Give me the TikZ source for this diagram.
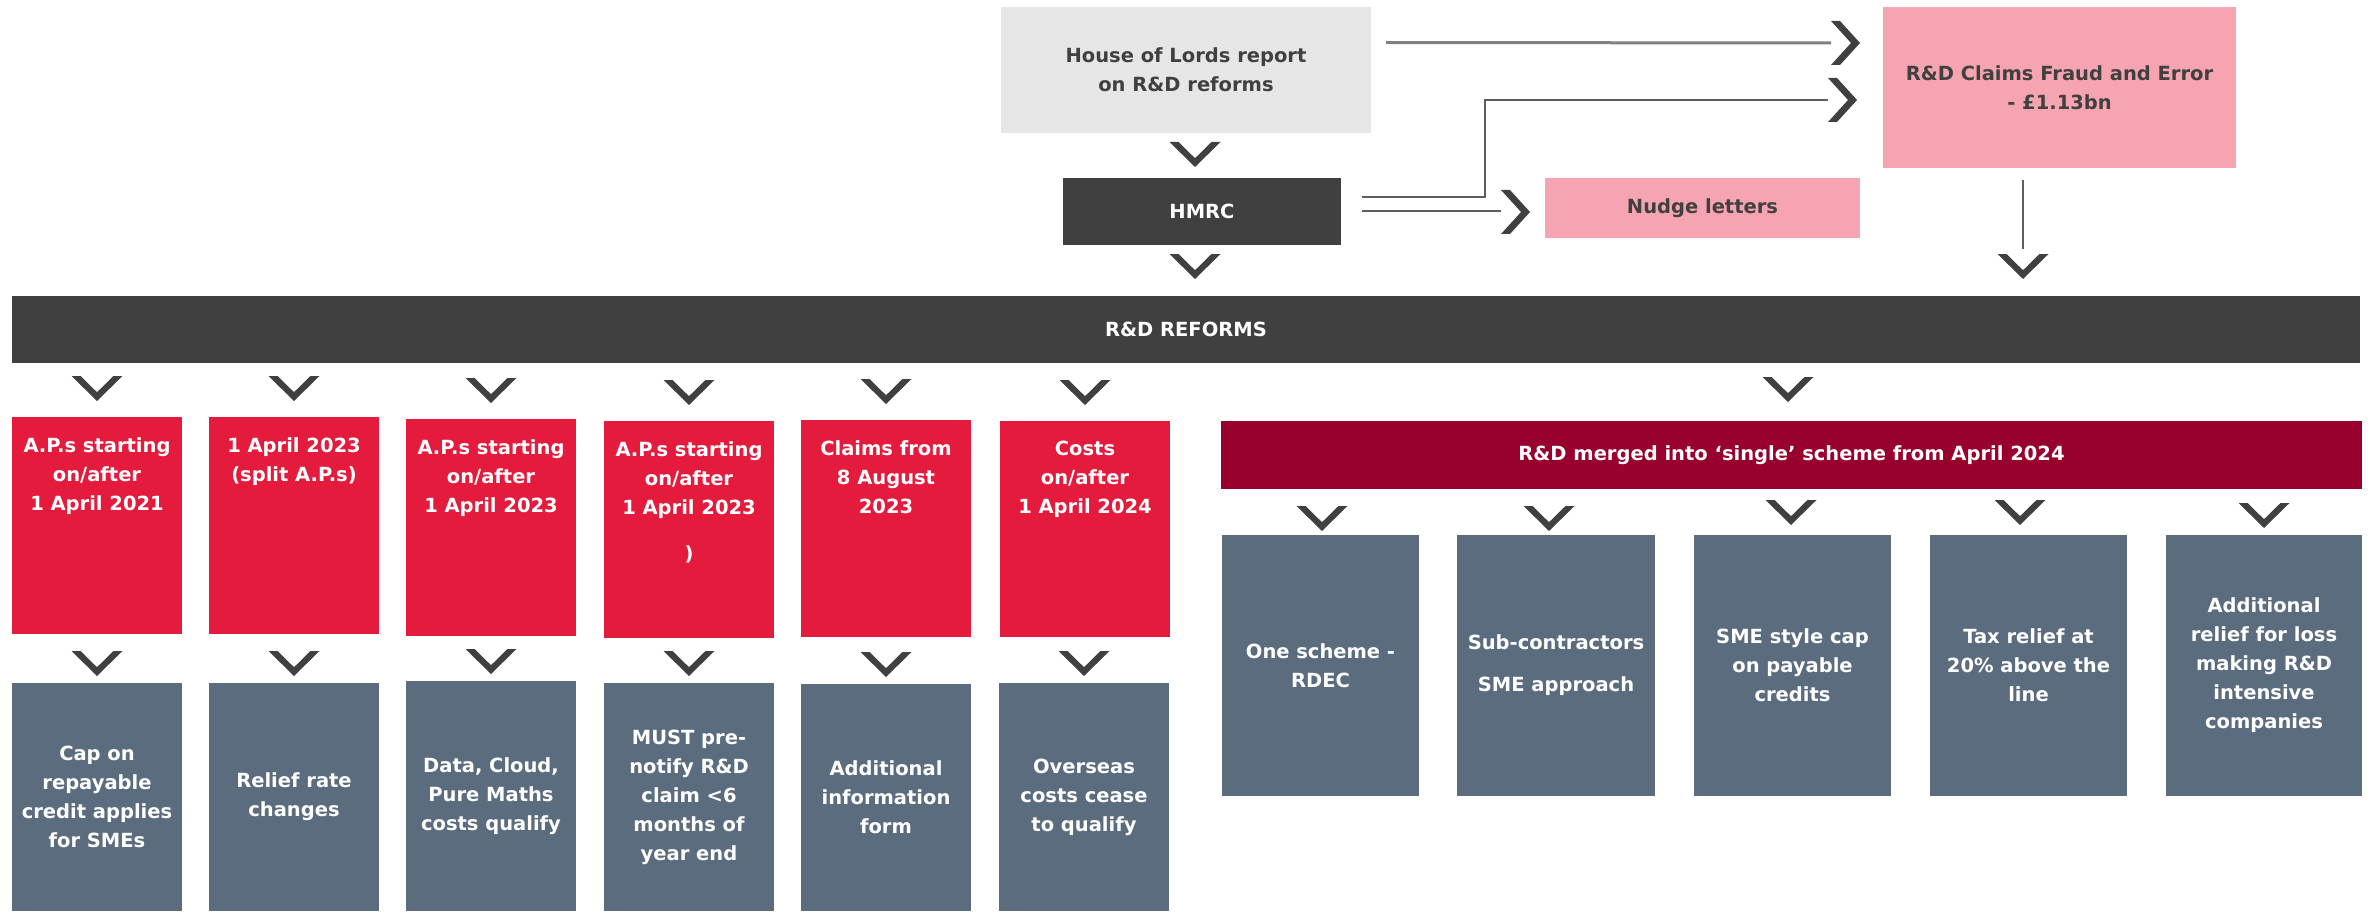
\documentclass[tikz,border=0pt]{standalone}
\usepackage{fontspec}
\setmainfont{DejaVu Sans}
\usetikzlibrary{calc}
\definecolor{darkfill}{HTML}{404040}
\definecolor{redbox}{HTML}{E41B3C}
\definecolor{slate}{HTML}{5B6C7E}
\definecolor{crimson}{HTML}{98002E}
\definecolor{pinkbox}{HTML}{F6A4B1}
\definecolor{lightbox}{HTML}{E6E6E6}
\definecolor{linegray}{HTML}{808080}
\definecolor{linedark}{HTML}{5E5E5E}
\newcommand\mybox[7]{\node[#2, minimum width={#5-#3}, minimum height={#6-#4}] (#1) at ({(#3+#5)/2},{(#4+#6)/2}) {#7};}
\tikzset{
  every node/.style={inner sep=0pt, outer sep=0pt, align=center,
    font=\fontsize{19.5}{29}\bfseries\selectfont},
  lightstyle/.style={rectangle, fill=lightbox, text=darkfill},
  pinkstyle/.style={rectangle, fill=pinkbox, text=darkfill},
  darkstyle/.style={rectangle, fill=darkfill, text=white},
  redstyle/.style={rectangle, fill=redbox},
  slatestyle/.style={rectangle, fill=slate, text=white},
  crimsonstyle/.style={rectangle, fill=crimson, text=white},
  redtext/.style={anchor=north, text=white},
  chevdown/.pic={\fill[darkfill] (-25.5,0) -- (0,25) -- (25.5,0) -- (16.5,0) -- (0,16.2) -- (-16.5,0) -- cycle;},
  chevright/.pic={\fill[darkfill] (0,-22) -- (9,-22) -- (29,0) -- (9,22) -- (0,22) -- (20,0) -- cycle;},
  thickconn/.style={draw=linegray, line width=3pt},
  thinconn/.style={draw=linedark, line width=2pt},
}
\begin{document}
\begin{tikzpicture}[x=1pt,y=-1pt]
\useasboundingbox (0,0) rectangle (2369,912);
% top section
\mybox{hol}{lightstyle}{1001}{7}{1371}{133}{House of Lords report\\on R\&D reforms}
\mybox{fraud}{pinkstyle}{1883}{7}{2236}{168}{R\&D Claims Fraud and Error\\- £1.13bn}
\mybox{hmrc}{darkstyle}{1063}{178}{1341}{245}{HMRC}
\mybox{nudge}{pinkstyle}{1545}{178}{1860}{238}{Nudge letters}
% reforms bar
\mybox{bar}{darkstyle}{12}{296}{2360}{363}{R\&D REFORMS}
% connectors top
\coordinate (holout) at ($(hol.east)+(15,-27.5)$);
\coordinate (chA) at (1831,43);
\coordinate (hmrcA) at ($(hmrc.east)+(21,-14.5)$);
\coordinate (hmrcB) at ($(hmrc.east)+(21,-0.5)$);
\coordinate (chB) at (1828,100);
\coordinate (chC) at (1501,211);
\coordinate (fraudout) at ($(fraud.south)+(-36.5,12)$);
\coordinate (chD) at (2023,249);
\draw[thickconn] (holout) -- (chA);
\draw[thinconn] (hmrcA) -| (1485,100) -- (chB);
\draw[thinconn] (hmrcB) -- (chC);
\draw[thinconn] (fraudout) -- (chD);
\pic at (chA) {chevright};
\pic at (chB) {chevright};
\pic at (1501,212) {chevright};
\pic at (1195,142) {chevdown};
\pic at (1195,254) {chevdown};
\pic at (2023,254) {chevdown};
% left columns
\mybox{r1}{redstyle}{12}{417}{182}{634}{}
\mybox{r2}{redstyle}{209}{417}{379}{634}{}
\mybox{r3}{redstyle}{406}{419}{576}{636}{}
\mybox{r4}{redstyle}{604}{421}{774}{638}{}
\mybox{r5}{redstyle}{801}{420}{971}{637}{}
\mybox{r6}{redstyle}{1000}{421}{1170}{637}{}
\node[redtext] (r1t) at ($(r1.north)+(0,21)$) {A.P.s starting\\on/after\\1 April 2021};
\node[redtext] (r2t) at ($(r2.north)+(0,21)$) {1 April 2023\\(split A.P.s)};
\node[redtext] (r3t) at ($(r3.north)+(0,21)$) {A.P.s starting\\on/after\\1 April 2023};
\node[redtext] (r4t) at ($(r4.north)+(0,21)$) {A.P.s starting\\on/after\\1 April 2023\\[17pt])};
\node[redtext] (r5t) at ($(r5.north)+(0,21)$) {Claims from\\8 August\\2023};
\node[redtext] (r6t) at ($(r6.north)+(0,20)$) {Costs\\on/after\\1 April 2024};
\mybox{g1}{slatestyle}{12}{683}{182}{911}{Cap on\\repayable\\credit applies\\for SMEs}
\mybox{g2}{slatestyle}{209}{683}{379}{911}{Relief rate\\changes}
\mybox{g3}{slatestyle}{406}{681}{576}{911}{Data, Cloud,\\Pure Maths\\costs qualify}
\mybox{g4}{slatestyle}{604}{683}{774}{911}{MUST pre-\\notify R\&D\\claim <6\\months of\\year end}
\mybox{g5}{slatestyle}{801}{684}{971}{911}{Additional\\information\\form}
\mybox{g6}{slatestyle}{999}{683}{1169}{911}{Overseas\\costs cease\\to qualify}
\foreach \n in {1,...,6}{
  \pic at ($(r\n.north)+(0,-41)$) {chevdown};
  \pic at ($(g\n.north)+(0,-32)$) {chevdown};
}
% right section
\mybox{single}{crimsonstyle}{1221}{421}{2362}{489}{R\&D merged into ‘single’ scheme from April 2024}
\pic at (1788,377) {chevdown};
\mybox{s1}{slatestyle}{1222}{535}{1419}{796}{One scheme -\\RDEC}
\mybox{s2}{slatestyle}{1457}{535}{1655}{796}{Sub-contractors\\[13pt]SME approach}
\mybox{s3}{slatestyle}{1694}{535}{1891}{796}{SME style cap\\on payable\\credits}
\mybox{s4}{slatestyle}{1930}{535}{2127}{796}{Tax relief at\\20\% above the\\line}
\mybox{s5}{slatestyle}{2166}{535}{2362}{796}{Additional\\relief for loss\\making R\&D\\intensive\\companies}
\pic at (1322,506) {chevdown};
\pic at (1549,506) {chevdown};
\pic at (1791,500) {chevdown};
\pic at (2020,500) {chevdown};
\pic at (2264,503) {chevdown};
\end{tikzpicture}
\end{document}
